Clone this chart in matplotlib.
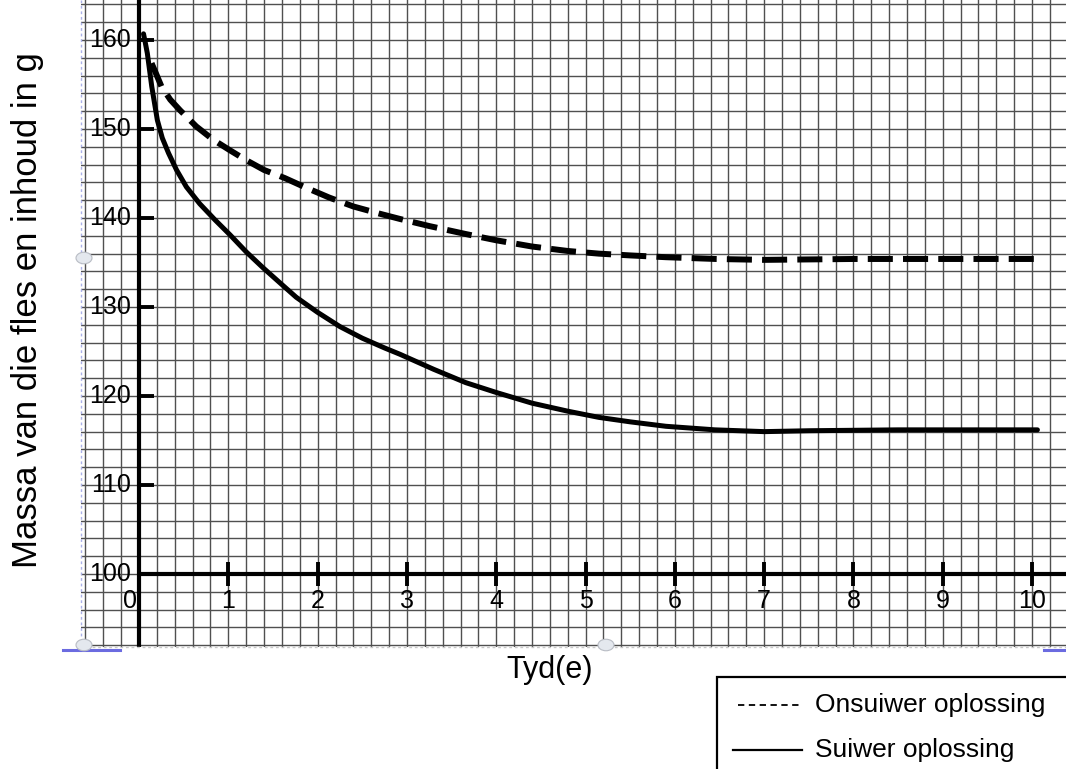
import numpy as np
import matplotlib
matplotlib.use("Agg")
import matplotlib.pyplot as plt
from matplotlib.patches import Rectangle, Circle
from matplotlib.lines import Line2D

plt.rcParams['font.family'] = ['Liberation Sans', 'DejaVu Sans']

# ---- data ----
suiwer_t = [0.05, 0.07, 0.093, 0.142, 0.205, 0.26, 0.33, 0.42, 0.53, 0.68, 0.85, 1.02,
            1.20, 1.39, 1.58, 1.76, 2.00, 2.25, 2.50, 2.75, 2.92, 3.30, 3.66, 4.00,
            4.40, 4.80, 5.15, 5.50, 5.90, 6.45, 7.00, 7.50, 8.50, 10.06]
suiwer_m = [160.7, 159.7, 158.5, 154.8, 151.0, 149.0, 147.3, 145.4, 143.5, 141.6, 139.8, 138.1,
            136.2, 134.4, 132.7, 131.1, 129.4, 127.8, 126.5, 125.4, 124.7, 123.0, 121.5, 120.4,
            119.2, 118.3, 117.6, 117.1, 116.6, 116.2, 116.0, 116.1, 116.2, 116.2]

onsuiwer_t = [0.14, 0.20, 0.25, 0.35, 0.46, 0.64, 0.83, 1.02, 1.20, 1.40, 1.63, 1.85,
              2.13, 2.40, 2.69, 2.92, 3.25, 3.66, 4.00, 4.40, 4.80, 5.15, 5.50, 5.90,
              6.46, 7.00, 8.00, 10.03]
onsuiwer_m = [157.4, 156.0, 154.8, 153.3, 152.1, 150.3, 148.8, 147.6, 146.5, 145.4, 144.5, 143.5,
              142.3, 141.3, 140.5, 139.9, 139.1, 138.2, 137.5, 136.8, 136.3, 136.0, 135.8, 135.6,
              135.4, 135.3, 135.4, 135.4]

x_ticks = [0, 1, 2, 3, 4, 5, 6, 7, 8, 9, 10]
x_tick_labels = ["0", "1", "2", "3", "4", "5", "6", "7", "8", "9", "10"]
y_ticks = [100, 110, 120, 130, 140, 150, 160]
y_tick_labels = ["100", "110", "120", "130", "140", "150", "160"]

legend_labels = ["Onsuiwer oplossing", "Suiwer oplossing"]
x_label = "Tyd(e)"
y_label = "Massa van die fles en inhoud in g"

# ---- figure ----
W, H = 1066, 769
fig = plt.figure(figsize=(W / 100, H / 100), dpi=100)
fig.patch.set_facecolor('white')
ax = fig.add_axes([81 / W, (H - 647) / H, (W - 81) / W, 647 / H])
xmin, xmax = -0.65, 10.38
ymin, ymax = 91.8, 164.5
ax.set_xlim(xmin, xmax)
ax.set_ylim(ymin, ymax)
for s in ax.spines.values():
    s.set_visible(False)

# graph-paper grid
ax.set_xticks(np.arange(-0.6, 10.39, 0.2))
ax.set_yticks(np.arange(92, 164.6, 2))
ax.tick_params(length=0, labelbottom=False, labelleft=False)
ax.grid(True, color='#505050', linewidth=1.0)
ax.set_axisbelow(True)

# axes lines
ax.axvline(0, color='black', lw=3.0, zorder=3)
ax.plot([0, xmax], [100, 100], color='black', lw=3.0, zorder=3, solid_capstyle='butt')
for xt in x_ticks[1:]:
    ax.plot([xt, xt], [98.65, 101.35], color='black', lw=2.8, zorder=3, solid_capstyle='butt')
for yt in y_ticks[1:]:
    ax.plot([0, 0.17], [yt, yt], color='black', lw=2.8, zorder=3, solid_capstyle='butt')

# tick labels
for xt, lab in zip(x_ticks, x_tick_labels):
    xx = -0.1 if xt == 0 else xt
    ax.text(xx, 96.97, lab, ha='center', va='center', fontsize=18, zorder=4)
for yt, lab in zip(y_ticks, y_tick_labels):
    ax.text(-0.09, yt, lab, ha='right', va='center', fontsize=18, zorder=4)

# curves
ax.plot(onsuiwer_t, onsuiwer_m, color='black', lw=4.3, dashes=(4.2, 1.7),
        dash_capstyle='butt', zorder=5)
ax.plot(suiwer_t, suiwer_m, color='black', lw=3.6, solid_capstyle='round',
        solid_joinstyle='round', zorder=5)

# frame decorations (dotted edges, selection marks, handles)
fig.add_artist(Line2D([81 / W, 1.0], [(H - 647) / H] * 2, color='#c8c8c8', lw=1.0,
                      ls=(0, (2, 2))))
fig.add_artist(Line2D([81 / W, 81 / W], [(H - 647) / H, 1.0], color='#aab0e8', lw=1.0,
                      ls=(0, (2, 2))))
fig.add_artist(Line2D([63 / W, 120 / W], [(H - 650) / H] * 2, color='#6b6be0', lw=2.2))
fig.add_artist(Line2D([1044 / W, 1.0], [(H - 650) / H] * 2, color='#6b6be0', lw=2.2))
for (cx, cy) in [(84, 258), (84, 645), (606, 645)]:
    fig.add_artist(Circle((cx / W, (H - cy) / H), 8 / W, transform=fig.transFigure,
                          facecolor='#e4e8ee', edgecolor='#b8bcc4', lw=0.8, zorder=6))

# axis titles
fig.text(28 / W, (H - 310) / H, y_label, rotation=90, ha='center', va='center', fontsize=25)
fig.text(550 / W, (H - 670) / H, x_label, ha='center', va='center', fontsize=22)

# legend box
fig.add_artist(Rectangle((717 / W, -10 / H), (W - 717 + 20) / W, (H - 677 + 10) / H,
                         transform=fig.transFigure, facecolor='white', edgecolor='black',
                         lw=1.6, clip_on=False))
fig.add_artist(Line2D([738 / W, 800 / W], [(H - 705) / H] * 2, color='black', lw=1.3,
                      ls=(0, (3.5, 2.5))))
fig.add_artist(Line2D([733 / W, 802 / W], [(H - 750) / H] * 2, color='black', lw=1.6))
fig.text(815 / W, (H - 705) / H, legend_labels[0], ha='left', va='center', fontsize=19)
fig.text(815 / W, (H - 750) / H, legend_labels[1], ha='left', va='center', fontsize=19)

fig.savefig('out.png', dpi=100, facecolor='white')
